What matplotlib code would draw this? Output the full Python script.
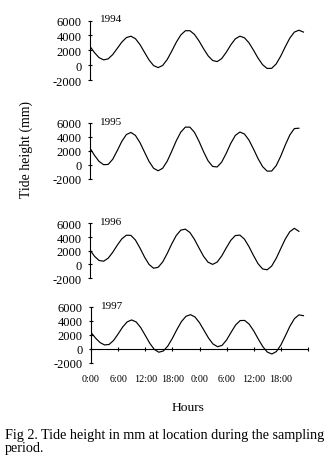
import matplotlib
matplotlib.use('Agg')
import matplotlib.pyplot as plt
from matplotlib.transforms import blended_transform_factory

# ---- data (hourly values in mm) ----
years = ['1994', '1995', '1996', '1997']

tide_1994 = [2530, 1690, 1030, 730, 870, 1440, 2265, 3105, 3710, 3900, 3570, 2785,
             1745, 720, -30, -300, -15, 780, 1900, 3090, 4070, 4630, 4635, 4140,
             3270, 2230, 1280, 655, 500, 905, 1745, 2740, 3550, 3900, 3690, 3015,
             2030, 970, 90, -415, -400, 190, 1240, 2490, 3650, 4450, 4700, 4450]
tide_1995 = [2380, 1340, 485, 10, 50, 790, 2030, 3355, 4335, 4645, 4220, 3190,
             1825, 475, -500, -860, -500, 515, 1940, 3450, 4700, 5410, 5400, 4665,
             3380, 1885, 565, -240, -315, 390, 1650, 3085, 4220, 4700, 4425, 3550,
             2265, 885, -260, -915, -900, -120, 1240, 2840, 4285, 5200, 5250]
tide_1996 = [2115, 1180, 570, 465, 905, 1770, 2815, 3740, 4280, 4260, 3575, 2405,
             1085, -10, -565, -430, 350, 1595, 3005, 4250, 5030, 5170, 4675, 3670,
             2405, 1190, 315, 0, 335, 1230, 2420, 3530, 4230, 4295, 3710, 2610,
             1300, 100, -665, -800, -250, 880, 2315, 3725, 4800, 5290, 4850]
tide_1997 = [2350, 1540, 890, 550, 620, 1200, 2130, 3115, 3865, 4140, 3850, 3040,
             1930, 790, -90, -495, -320, 400, 1500, 2760, 3900, 4660, 4900, 4565,
             3745, 2645, 1535, 680, 295, 490, 1275, 2380, 3425, 4055, 4070, 3525,
             2565, 1400, 305, -470, -750, -405, 540, 1865, 3240, 4330, 4870, 4750]
series = [tide_1994, tide_1995, tide_1996, tide_1997]

yticks = [-2000, 0, 2000, 4000, 6000]
ytick_labels = ['-2000', '0', '2000', '4000', '6000']
xticks = [0, 6, 12, 18, 24, 30, 36, 42, 48]
xtick_labels = ['0:00', '6:00', '12:00', '18:00', '0:00', '6:00', '12:00', '18:00', '']

plt.rcParams['font.family'] = ['Liberation Serif', 'DejaVu Serif']

W, H = 336, 477
fig = plt.figure(figsize=(W / 100, H / 100), dpi=100)
fig.patch.set_facecolor('white')

# panel pixel geometry: (left, top(6000), bottom(-2000))
panels_px = [(90, 21.5, 81.3), (90, 124, 179.7), (90, 224.5, 279), (91, 308, 363.7)]
right_px = 308

for i, (vals, year) in enumerate(zip(series, years)):
    lpx, tpx, bpx = panels_px[i]
    ax = fig.add_axes([lpx / W, 1 - bpx / H, (right_px - lpx) / W, (bpx - tpx) / H])
    ax.set_facecolor('none')
    ax.plot(list(range(len(vals))), vals, color='black', lw=0.85)
    ax.set_xlim(0, 48)
    ax.set_ylim(-2000, 6000)
    for s in ['top', 'right']:
        ax.spines[s].set_visible(False)
    ax.spines['left'].set_linewidth(0.8)
    ax.set_yticks(yticks)
    ax.set_yticklabels(ytick_labels)
    ax.tick_params(axis='y', direction='inout', length=3.5, width=0.8, pad=4.5,
                   labelsize=9)
    ax.text(2.2, 6250, year, fontsize=8, ha='left', va='center', clip_on=False)
    if i < 3:
        ax.spines['bottom'].set_visible(False)
        ax.set_xticks([])
    else:
        ax.spines['bottom'].set_position(('data', 0))
        ax.spines['bottom'].set_linewidth(0.8)
        ax.set_xticks(xticks)
        ax.set_xticklabels([])
        ax.tick_params(axis='x', direction='inout', length=3.5, width=0.8)
        trans = blended_transform_factory(ax.transData, ax.transAxes)
        for xv, lab in zip(xticks, xtick_labels):
            ax.text(xv, -0.29, lab, transform=trans, ha='center', va='center',
                    fontsize=7.3)

fig.text(26 / W, 1 - 149 / H, 'Tide height (mm)', rotation=90, ha='center',
         va='center', fontsize=9.9)
fig.text(188 / W, 1 - 408 / H, 'Hours', ha='center', va='center', fontsize=9.7)
fig.text(5 / W, 1 - 435.7 / H,
         'Fig 2. Tide height in mm at location during the sampling',
         ha='left', va='center', fontsize=10.2)
fig.text(5 / W, 1 - 448.5 / H, 'period.', ha='left', va='center', fontsize=10.2)

fig.savefig('out.png', dpi=100, facecolor='white')
